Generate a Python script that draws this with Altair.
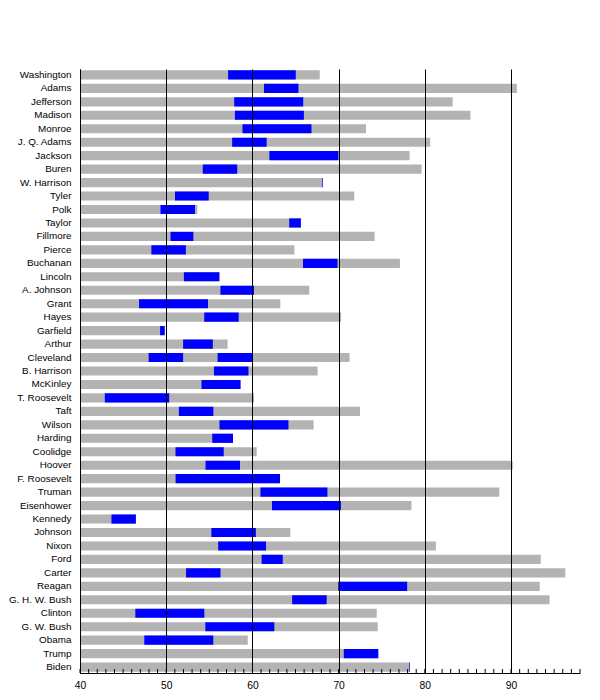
import altair as alt
import pandas as pd

presidents = ["Washington", "Adams", "Jefferson", "Madison", "Monroe", "J. Q. Adams",
              "Jackson", "Buren", "W. Harrison", "Tyler", "Polk", "Taylor", "Fillmore",
              "Pierce", "Buchanan", "Lincoln", "A. Johnson", "Grant", "Hayes", "Garfield",
              "Arthur", "Cleveland", "B. Harrison", "McKinley", "T. Roosevelt", "Taft",
              "Wilson", "Harding", "Coolidge", "Hoover", "F. Roosevelt", "Truman",
              "Eisenhower", "Kennedy", "Johnson", "Nixon", "Ford", "Carter", "Reagan",
              "G. H. W. Bush", "Clinton", "G. W. Bush", "Obama", "Trump", "Biden"]

term_start = [57.18, 61.34, 57.89, 57.97, 58.85, 57.65, 61.97, 54.24, 68.07, 51.02,
              49.34, 64.27, 50.50, 48.28, 65.87, 52.05, 56.29, 46.85, 54.41, 49.29,
              51.96, 47.96, 55.54, 54.09, 42.88, 51.47, 56.18, 55.34, 51.08, 54.56,
              51.09, 60.93, 62.27, 43.65, 55.24, 56.03, 61.07, 52.30, 69.95, 64.61,
              46.42, 54.54, 47.46, 70.60, 78.17]

term_end = [65.03, 65.34, 65.89, 65.97, 66.85, 61.65, 69.97, 58.24, 68.15, 54.93,
            53.34, 65.62, 53.15, 52.28, 69.87, 56.17, 60.18, 54.85, 58.41, 49.83,
            55.41, 51.96, 59.54, 58.62, 50.35, 55.47, 64.18, 57.75, 56.67, 58.56,
            63.20, 68.70, 70.27, 46.48, 60.40, 61.58, 63.52, 56.30, 77.95, 68.61,
            54.42, 62.54, 55.46, 74.60, 78.25]

life_age = [67.81, 90.68, 83.22, 85.29, 73.18, 80.62, 78.23, 79.63, 68.15, 71.81,
            53.62, 65.62, 74.17, 64.87, 77.11, 56.17, 66.59, 63.24, 70.29, 49.83,
            57.12, 71.27, 67.56, 58.62, 60.19, 72.48, 67.10, 57.75, 60.50, 90.20,
            63.20, 88.64, 78.45, 46.48, 64.40, 81.28, 93.45, 96.30, 93.33, 94.47,
            74.42, 74.54, 59.46, 74.60, 78.25]

# Cleveland's second (non-consecutive) term
extra_term_name = ["Cleveland"]
extra_term_start = [55.96]
extra_term_end = [59.96]

minor_ticks = list(range(40, 99))
major_ticks = [40, 50, 60, 70, 80, 90]

W, H = 500, 604

life_df = pd.DataFrame({"name": presidents, "base": [40] * len(presidents), "life": life_age})
term_df = pd.DataFrame({
    "name": presidents + extra_term_name,
    "start": term_start + extra_term_start,
    "end": term_end + extra_term_end,
})
tick_df = pd.DataFrame({"year": minor_ticks})

font = "Liberation Sans"
xscale = alt.Scale(domain=[40, 98], nice=False, zero=False)
yscale = alt.Scale(domain=presidents, paddingInner=0.32, paddingOuter=0.1)

gray = alt.Chart(life_df).mark_bar(color="#b3b3b3").encode(
    x=alt.X("base:Q", scale=xscale,
            axis=alt.Axis(values=major_ticks, title=None, grid=True, gridColor="black",
                          gridWidth=1, gridOpacity=1, tickSize=0, domainColor="black",
                          labelFont=font, labelFontSize=10.3, labelColor="black",
                          labelPadding=7, zindex=1, labelFlush=False)),
    x2="life:Q",
    y=alt.Y("name:N", scale=yscale, sort=presidents,
            axis=alt.Axis(title=None, tickSize=0, domainColor="black", labelFont=font,
                          labelFontSize=9.9, labelColor="black", labelPadding=9,
                          labelLimit=0)),
)

blue = alt.Chart(term_df).mark_bar(color="#0000ff").encode(
    x=alt.X("start:Q", scale=xscale),
    x2="end:Q",
    y=alt.Y("name:N", scale=yscale, sort=presidents),
)

ticks = alt.Chart(tick_df).mark_rule(color="black", strokeWidth=1).encode(
    x=alt.X("year:Q", scale=xscale),
    y=alt.value(H - 4),
    y2=alt.value(H),
)

chart = alt.layer(gray, blue, ticks).properties(
    width=W, height=H,
    autosize=alt.AutoSizeParams(type="none"),
    padding={"top": 61, "left": 72, "right": 10, "bottom": 20},
).configure_view(stroke=None)

chart.save("out.html", embed_options={"renderer": "svg", "actions": False})
